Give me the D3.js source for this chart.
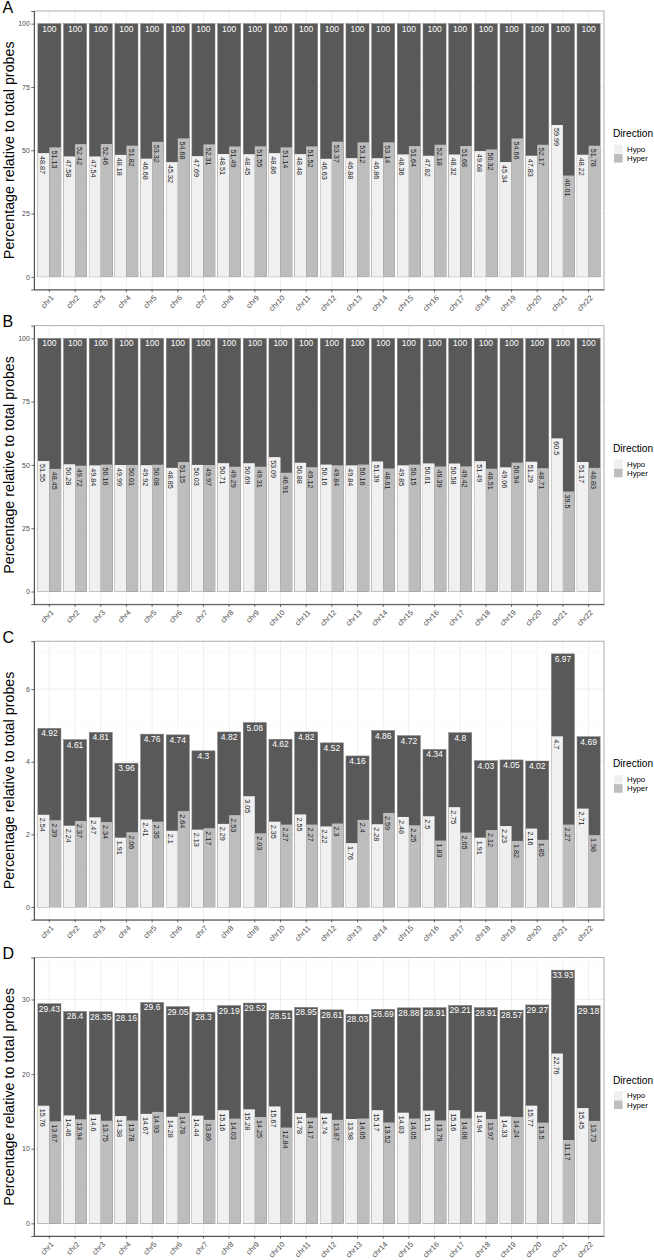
<!DOCTYPE html>
<html><head><meta charset="utf-8">
<script src="https://cdn.jsdelivr.net/npm/d3@7"></script>
<style>
body{margin:0;background:#fff}
svg{display:block}
text{font-family:"Liberation Sans",Arial,Helvetica,sans-serif}
</style>
</head><body>
<svg id="c" width="654" height="1260"></svg>
<script>
const chromosomes = ["chr1","chr2","chr3","chr4","chr5","chr6","chr7","chr8","chr9","chr10","chr11","chr12","chr13","chr14","chr15","chr16","chr17","chr18","chr19","chr20","chr21","chr22"];
const directions = ["Hypo","Hyper"];

const totalA = [100,100,100,100,100,100,100,100,100,100,100,100,100,100,100,100,100,100,100,100,100,100];
const hypoA  = [48.87,47.58,47.54,48.18,46.68,45.32,47.69,48.51,48.45,48.86,48.48,46.63,46.88,46.86,48.36,47.82,48.32,49.68,45.34,47.83,59.99,48.22];
const hyperA = [51.13,52.42,52.46,51.82,53.32,54.68,52.31,51.49,51.55,51.14,51.52,53.37,53.12,53.14,51.64,52.18,51.68,50.32,54.66,52.17,40.01,51.78];

const totalB = [100,100,100,100,100,100,100,100,100,100,100,100,100,100,100,100,100,100,100,100,100,100];
const hypoB  = [51.55,50.28,49.84,49.99,49.92,48.85,50.03,50.71,50.69,53.09,50.88,50.16,49.84,51.39,49.85,50.61,50.58,51.49,49.06,51.29,60.5,51.17];
const hyperB = [48.45,49.72,50.16,50.01,50.08,51.15,49.97,49.29,49.31,46.91,49.12,49.84,50.16,48.61,50.15,49.39,49.42,48.51,50.94,48.71,39.5,48.83];

const totalC = [4.92,4.61,4.81,3.96,4.76,4.74,4.3,4.82,5.08,4.62,4.82,4.52,4.16,4.86,4.72,4.34,4.8,4.03,4.05,4.02,6.97,4.69];
const hypoC  = [2.54,2.24,2.47,1.91,2.41,2.1,2.13,2.29,3.05,2.35,2.55,2.22,1.76,2.28,2.48,2.5,2.75,1.91,2.23,2.16,4.7,2.71];
const hyperC = [2.39,2.37,2.34,2.06,2.35,2.64,2.17,2.53,2.03,2.27,2.27,2.3,2.4,2.59,2.25,1.83,2.05,2.12,1.82,1.85,2.27,1.98];

const totalD = [29.43,28.4,28.35,28.16,29.6,29.05,28.3,29.19,29.52,28.51,28.95,28.61,28.03,28.69,28.88,28.91,29.21,28.91,28.57,29.27,33.93,29.18];
const hypoD  = [15.76,14.46,14.6,14.38,14.67,14.28,14.44,15.16,15.28,15.67,14.78,14.74,13.98,15.17,14.83,15.11,15.16,14.94,14.33,15.77,22.76,15.45];
const hyperD = [13.67,13.94,13.75,13.78,14.93,14.78,13.86,14.03,14.25,12.84,14.17,13.87,14.05,13.52,14.05,13.79,14.06,13.97,14.24,13.5,11.17,13.73];

const ticksAB = [0,25,50,75,100], minorAB = [12.5,37.5,62.5,87.5];
const ticksC = [0,2,4,6], minorC = [1,3,5,7];
const ticksD = [0,10,20,30], minorD = [5,15,25,35];

const panelLetters = ["A","B","C","D"];
const yTitle = "Percentage relative to total probes";
const legendTitle = "Direction";

const panels = [
  {letter:panelLetters[0], top:11,    total:totalA, hypo:hypoA, hyper:hyperA, ticks:ticksAB, minor:minorAB},
  {letter:panelLetters[1], top:325.7, total:totalB, hypo:hypoB, hyper:hyperB, ticks:ticksAB, minor:minorAB},
  {letter:panelLetters[2], top:641.2, total:totalC, hypo:hypoC, hyper:hyperC, ticks:ticksC,  minor:minorC},
  {letter:panelLetters[3], top:957.5, total:totalD, hypo:hypoD, hyper:hyperD, ticks:ticksD,  minor:minorD}
];

const colDark = "#595959", colHypo = "#f0f0f0", colHyper = "#bdbdbd";
const fillOf = {Hypo: colHypo, Hyper: colHyper};
const left = 34, right = 604, ph = 278.5;

const svg = d3.select("#c");
svg.append("rect").attr("width",654).attr("height",1260).attr("fill","#fff");

const x = d3.scaleBand().domain(chromosomes).range([left, right]).paddingInner(0.1).paddingOuter(0.15);
const sub = d3.scaleBand().domain(directions).range([0, x.bandwidth()]);

panels.forEach(p => {
  const maxV = d3.max(p.total);
  const y = d3.scaleLinear().domain([-0.05*maxV, 1.05*maxV]).range([p.top + ph, p.top]);
  const g = svg.append("g");
  const bottom = p.top + ph;

  // grid
  g.selectAll("line.minor").data(p.minor.filter(v => y(v) >= p.top)).join("line")
    .attr("x1", left).attr("x2", right).attr("y1", d => y(d)).attr("y2", d => y(d))
    .attr("stroke", "#f3f3f3").attr("stroke-width", 0.5);
  g.selectAll("line.major").data(p.ticks).join("line")
    .attr("x1", left).attr("x2", right).attr("y1", d => y(d)).attr("y2", d => y(d))
    .attr("stroke", "#ebebeb").attr("stroke-width", 0.8);
  g.selectAll("line.vgrid").data(chromosomes).join("line")
    .attr("x1", d => x(d) + x.bandwidth()/2).attr("x2", d => x(d) + x.bandwidth()/2)
    .attr("y1", p.top).attr("y2", bottom)
    .attr("stroke", "#ebebeb").attr("stroke-width", 0.8);

  const rows = chromosomes.map((c, i) => ({c, total: p.total[i], Hypo: p.hypo[i], Hyper: p.hyper[i]}));

  // total bars
  g.selectAll("rect.tot").data(rows).join("rect")
    .attr("x", d => x(d.c)).attr("width", x.bandwidth())
    .attr("y", d => y(d.total)).attr("height", d => y(0) - y(d.total))
    .attr("fill", colDark).attr("stroke", "#808080").attr("stroke-width", 0.5);

  // direction bars
  const subRows = rows.flatMap(r => directions.map(k => ({c: r.c, k, v: r[k]})));
  g.selectAll("rect.dir").data(subRows).join("rect")
    .attr("x", d => x(d.c) + sub(d.k)).attr("width", sub.bandwidth())
    .attr("y", d => y(d.v)).attr("height", d => y(0) - y(d.v))
    .attr("fill", d => fillOf[d.k]);

  // total labels
  g.selectAll("text.tot").data(rows).join("text")
    .attr("x", d => x(d.c) + x.bandwidth()/2).attr("y", d => y(d.total) + 8)
    .attr("text-anchor", "middle").attr("font-size", 8.5).attr("fill", "#fff")
    .text(d => String(d.total));

  // direction labels (rotated)
  g.selectAll("text.dir").data(subRows).join("text")
    .attr("transform", d => `translate(${x(d.c) + sub(d.k) + sub.bandwidth()/2},${y(d.v) + 3}) rotate(90)`)
    .attr("dy", "0.5em").attr("text-anchor", "start").attr("font-size", 7.2).attr("fill", "#1a1a1a")
    .text(d => String(d.v));

  // border
  g.append("rect").attr("x", left).attr("y", p.top).attr("width", right - left).attr("height", ph)
    .attr("fill", "none").attr("stroke", "#9a9a9a").attr("stroke-width", 0.8);

  // y axis
  const ya = g.append("g").attr("transform", `translate(${left},0)`)
    .call(d3.axisLeft(y).tickValues(p.ticks).tickSize(2.7).tickPadding(1.5).tickFormat(d3.format("")));
  ya.select(".domain").attr("stroke", "#333").attr("stroke-width", 0.8);
  ya.selectAll(".tick line").attr("stroke", "#333").attr("stroke-width", 0.7);
  ya.selectAll(".tick text").attr("font-size", 7).attr("fill", "#4d4d4d")
    .style("font-family", '"Liberation Sans",Arial,sans-serif');

  // x axis
  const xa = g.append("g").attr("transform", `translate(0,${bottom})`)
    .call(d3.axisBottom(x).tickSize(2.7).tickSizeOuter(0));
  xa.select(".domain").attr("stroke", "#333").attr("stroke-width", 0.8);
  xa.selectAll(".tick line").attr("stroke", "#333").attr("stroke-width", 0.7);
  xa.selectAll(".tick text")
    .attr("y", 0).attr("dy", "0.72em")
    .attr("transform", "translate(1,5) rotate(-45)")
    .attr("text-anchor", "end").attr("font-size", 7.5).attr("fill", "#4d4d4d")
    .style("font-family", '"Liberation Sans",Arial,sans-serif');

  // y title
  const cy = p.top + ph/2;
  g.append("text").attr("transform", `translate(13.5,${cy}) rotate(-90)`)
    .attr("text-anchor", "middle").attr("font-size", 14.3).attr("fill", "#000")
    .text(yTitle);

  // panel letter
  g.append("text").attr("x", 2.5).attr("y", p.top + 1.5).attr("font-size", 16).attr("fill", "#000")
    .text(p.letter);

  // legend
  const lg = g.append("g");
  lg.append("text").attr("x", 613).attr("y", cy - 13).attr("font-size", 10.2).attr("fill", "#000").text(legendTitle);
  directions.forEach((k, i) => {
    lg.append("rect").attr("x", 614).attr("y", cy - 5.5 + i*9.2).attr("width", 8.6).attr("height", 8.6)
      .attr("fill", fillOf[k]);
    lg.append("text").attr("x", 627).attr("y", cy - 5.5 + i*9.2 + 7.2).attr("font-size", 7.8).attr("fill", "#000").text(k);
  });
});
</script>
</body></html>
